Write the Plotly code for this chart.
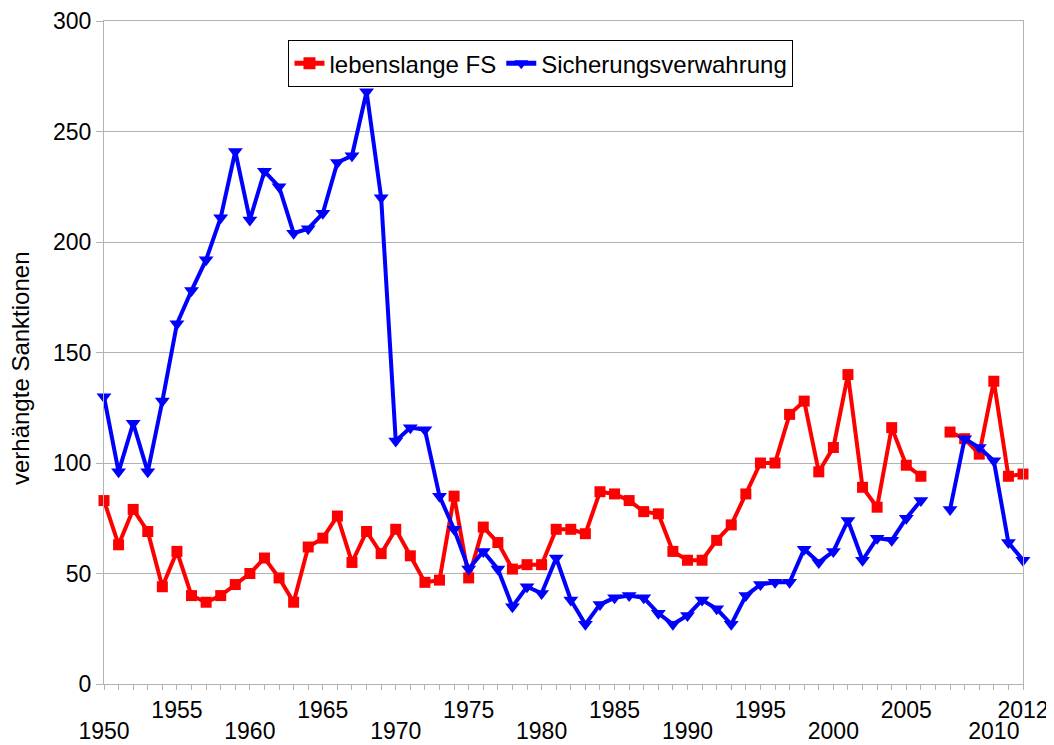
import plotly.graph_objects as go

# Categories (the empty entry is the separator gap in the original chart)
categories = [
    "1950", "1951", "1952", "1953", "1954", "1955", "1956", "1957", "1958", "1959",
    "1960", "1961", "1962", "1963", "1964", "1965", "1966", "1967", "1968", "1969",
    "1970", "1971", "1972", "1973", "1974", "1975", "1976", "1977", "1978", "1979",
    "1980", "1981", "1982", "1983", "1984", "1985", "1986", "1987", "1988", "1989",
    "1990", "1991", "1992", "1993", "1994", "1995", "1996", "1997", "1998", "1999",
    "2000", "2001", "2002", "2003", "2004", "2005", "2006", "",
    "2007", "2008", "2009", "2010", "2011", "2012",
]

lebenslange_fs = [
    83, 63, 79, 69, 44, 60, 40, 37, 40, 45,
    50, 57, 48, 37, 62, 66, 76, 55, 69, 59,
    70, 58, 46, 47, 85, 48, 71, 64, 52, 54,
    54, 70, 70, 68, 87, 86, 83, 78, 77, 60,
    56, 56, 65, 72, 86, 100, 100, 122, 128, 96,
    107, 140, 89, 80, 116, 99, 94, None,
    114, 111, 104, 137, 94, 95,
]

sicherungsverwahrung = [
    130, 96, 118, 96, 128, 163, 178, 192, 211, 241,
    210, 232, 225, 204, 206, 213, 236, 239, 268, 220,
    110, 116, 115, 85, 70, 52, 60, 52, 35, 44,
    41, 57, 38, 27, 36, 39, 40, 39, 32, 27,
    31, 38, 34, 27, 40, 45, 46, 46, 61, 55,
    60, 74, 56, 66, 65, 75, 83, None,
    79, 111, 107, 101, 64, 56,
]

# Staggered tick labels (upper row / lower row)
labels_upper = ["1955", "1965", "1975", "1985", "1995", "2005", "2012"]
labels_lower = ["1950", "1960", "1970", "1980", "1990", "2000", "2010"]

y_ticks = [0, 50, 100, 150, 200, 250, 300]

x_pos = list(range(len(categories)))
lower_vals = [categories.index(c) for c in labels_lower]
minor_text = [c if c in labels_upper else "" for c in categories]

FONT = "Liberation Sans, Arial, sans-serif"
GRID = "#b3b3b3"
X_RANGE = [0, len(categories) - 1]

fig = go.Figure()
fig.add_trace(go.Scatter(
    x=x_pos, y=lebenslange_fs, name="lebenslange FS", mode="lines+markers",
    line=dict(color="#ff0000", width=4),
    marker=dict(symbol="square", size=11, color="#ff0000"),
    connectgaps=False, cliponaxis=False,
))
fig.add_trace(go.Scatter(
    x=x_pos, y=sicherungsverwahrung, name="Sicherungsverwahrung", mode="lines+markers",
    line=dict(color="#0000ff", width=4),
    marker=dict(symbol="triangle-down", size=13, color="#0000ff"),
    connectgaps=False, cliponaxis=False,
))
# invisible helper trace so the second (lower-label) axis is drawn
fig.add_trace(go.Scatter(
    x=x_pos, y=[None] * len(x_pos), xaxis="x2", yaxis="y",
    mode="lines", showlegend=False, hoverinfo="skip",
))

# The page body adds an 8px offset; figure is sized to fill the window.
fig.update_layout(
    width=1046, height=737,
    margin=dict(l=96, r=31, t=13, b=61, autoexpand=False),
    paper_bgcolor="white", plot_bgcolor="white",
    font=dict(family=FONT, size=23, color="black"),
    showlegend=True,
    legend=dict(
        orientation="h", x=0.4755, xanchor="center", y=0.9713, yanchor="top",
        bgcolor="white", bordercolor="black", borderwidth=1,
        font=dict(family=FONT, size=24, color="black"),
        itemsizing="constant",
    ),
    xaxis=dict(
        range=X_RANGE, automargin=False,
        tickmode="array", tickvals=x_pos, ticktext=minor_text,
        ticks="outside", ticklen=5, tickcolor=GRID, tickwidth=1,
        showline=True, linecolor=GRID, linewidth=1, mirror=True,
        showgrid=False, zeroline=False,
        tickfont=dict(family=FONT, size=23, color="black"),
        tickangle=0, ticklabelstandoff=0,
    ),
    xaxis2=dict(
        range=X_RANGE, automargin=False, overlaying="x", anchor="y", side="bottom",
        tickmode="array", tickvals=lower_vals, ticktext=labels_lower,
        ticks="", showline=False, showgrid=False, zeroline=False,
        tickfont=dict(family=FONT, size=23, color="black"),
        tickangle=0, ticklabelstandoff=31,
    ),
    yaxis=dict(
        range=[0, 300], automargin=False,
        tickmode="array", tickvals=y_ticks,
        ticks="outside", ticklen=7, tickcolor=GRID, tickwidth=1,
        showline=True, linecolor=GRID, linewidth=1, mirror=True,
        showgrid=True, gridcolor=GRID, gridwidth=1, zeroline=False,
        tickfont=dict(family=FONT, size=23, color="black"),
    ),
    annotations=[dict(
        text="verhängte Sanktionen", textangle=-90,
        xref="paper", yref="paper", x=-0.0914, y=0.4766,
        xanchor="center", yanchor="middle", showarrow=False,
        font=dict(family=FONT, size=24, color="black"),
    )],
)

fig.write_html("out.html")
